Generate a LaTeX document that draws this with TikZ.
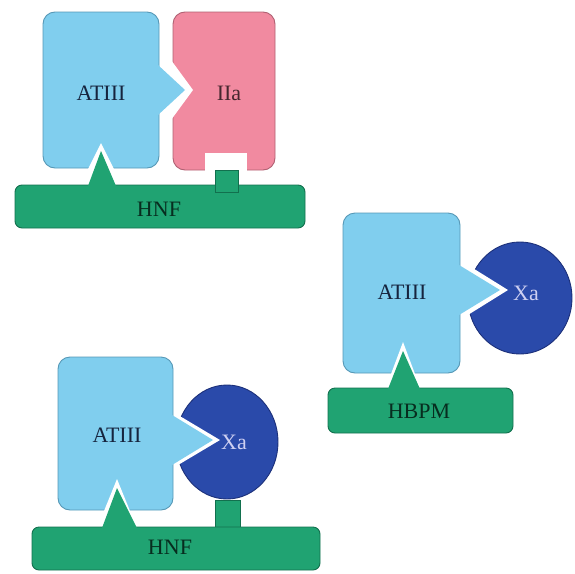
\documentclass[tikz,border=0pt]{standalone}
\usepackage{fontspec}
\setmainfont{Liberation Serif}
\usetikzlibrary{positioning}
\definecolor{atblue}{RGB}{128,206,238}
\definecolor{atline}{RGB}{86,152,182}
\definecolor{iipink}{RGB}{241,138,160}
\definecolor{iiline}{RGB}{176,96,114}
\definecolor{hgreen}{RGB}{32,163,114}
\definecolor{hline}{RGB}{18,112,78}
\definecolor{xblue}{RGB}{42,74,170}
\definecolor{xline}{RGB}{28,48,122}
\definecolor{labdark}{RGB}{22,36,62}
\definecolor{lablight}{RGB}{206,208,242}
\tikzset{
  atbox/.style={fill=atblue,draw=atline,line width=.9pt,rounded corners=12pt},
  iibox/.style={fill=iipink,draw=iiline,line width=.9pt,rounded corners=12pt},
  hbar/.style={fill=hgreen,draw=hline,line width=.9pt,rounded corners=7pt},
  hstem/.style={fill=hgreen,draw=hline,line width=.9pt},
  xball/.style={fill=xblue,draw=xline,line width=.9pt},
  lab/.style={text=labdark,inner sep=0pt}
}
\begin{document}
\begin{tikzpicture}[x=1pt,y=-1pt,font=\fontsize{22}{24}\selectfont]
  \useasboundingbox (0,0) rectangle (575,573);
  % ATIII + IIa on HNF
  \draw[iibox] (173,12) rectangle (275,170);
  \fill[white] (171,60) -- (193,90) -- (171,120) -- cycle;
  \fill[white] (205,153) rectangle (247,172);
  \draw[atbox] (43,12) rectangle (159,168);
  \fill[atblue] (158,65) -- (185,90) -- (158,115) -- cycle;
  \fill[white] (88,169) -- (101,143) -- (114,169) -- cycle;
  \draw[hbar] (15,185) rectangle (305,228);
  \draw[hstem] (215,170) rectangle (238,192);
  \fill[hgreen] (88,186) -- (101,151) -- (116,186) -- cycle;
  \node[lab] (at1) at (101,93) {ATIII};
  \node[lab,text=iiline!40!black] (iia) at (229,93) {IIa};
  \node[lab,text=hline!40!black] (hnf1) at (159,209) {HNF};
  % ATIII + Xa on HBPM
  \draw[xball] (520,298) ellipse [x radius=52,y radius=56];
  \fill[white] (455,257) -- (508,290) -- (455,323) -- cycle;
  \draw[atbox] (343,213) rectangle (460,373);
  \fill[atblue] (459,265) -- (500,290) -- (459,315) -- cycle;
  \fill[white] (391,374) -- (403,342) -- (415,374) -- cycle;
  \draw[hbar] (328,388) rectangle (513,433);
  \fill[hgreen] (388,389) -- (403,351) -- (420,389) -- cycle;
  \node[lab] (at2) at (402,292) {ATIII};
  \node[lab,text=lablight] (xa2) at (526,293) {Xa};
  \node[lab,text=hline!40!black] (hbpm) at (419,411) {HBPM};
  % ATIII + Xa on HNF
  \draw[hstem] (215,500) rectangle (240,528);
  \draw[xball] (227,442) ellipse [x radius=51,y radius=57];
  \fill[white] (168,409) -- (220,440) -- (168,471) -- cycle;
  \draw[atbox] (58,357) rectangle (173,510);
  \fill[atblue] (172,415) -- (213,440) -- (172,465) -- cycle;
  \fill[white] (104,511) -- (117,479) -- (130,511) -- cycle;
  \draw[hbar] (32,527) rectangle (320,570);
  \fill[hgreen] (102,528) -- (117,488) -- (137,528) -- cycle;
  \node[lab] (at3) at (117,435) {ATIII};
  \node[lab,text=lablight] (xa3) at (234,442) {Xa};
  \node[lab,text=hline!40!black] (hnf2) at (170,547) {HNF};
\end{tikzpicture}
\end{document}
